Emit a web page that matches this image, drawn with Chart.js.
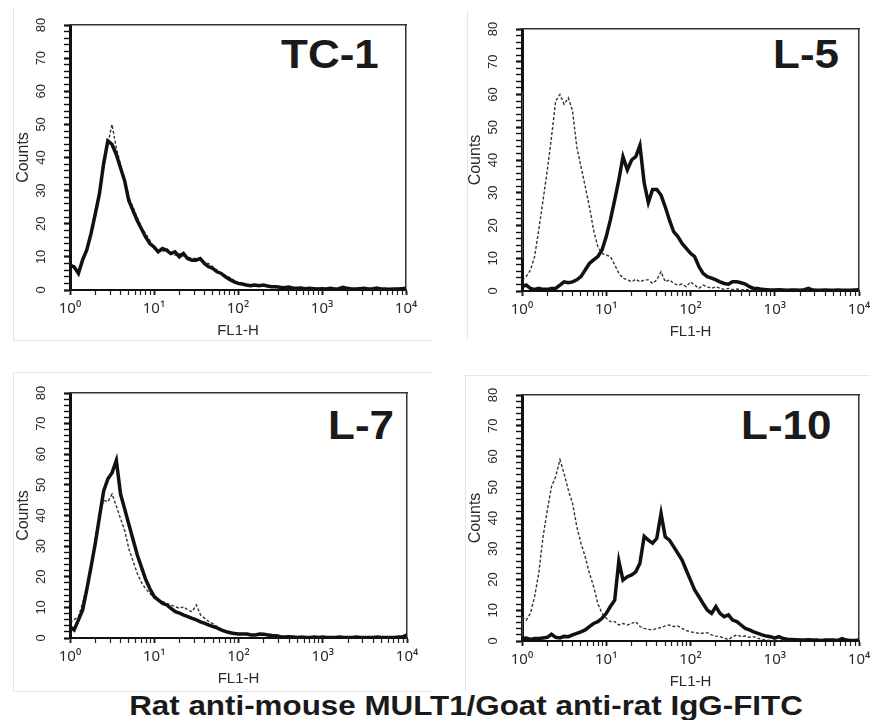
<!DOCTYPE html>
<html>
<head>
<meta charset="utf-8">
<script src="https://cdn.jsdelivr.net/npm/chart.js@4.4.0/dist/chart.umd.min.js"></script>
<style>
    body { margin: 0; width: 870px; height: 720px; overflow: hidden; position: relative; background: #fff;
           font-family: 'Liberation Sans', Arial, sans-serif; }
    canvas { position: absolute; }
    .tile { position: absolute; border: 0 solid #e6e6e6; }
    .tag { position: absolute; font-size: 40px; line-height: 40px; font-weight: bold; color: #1a1a1a;
           white-space: nowrap; transform-origin: left top; transform: scaleX(1.1); }
    #caption { position: absolute; left: 466px; top: 692px; font-size: 28px; line-height: 28px; font-weight: bold;
               color: #1a1a1a; white-space: nowrap; transform: translateX(-50%) scaleX(1.12); }
</style>
</head>
<body>
<div class="tile" style="left:13px; top:8px; width:417px; height:332px; border-left-width:1px; border-bottom-width:1px;"></div>
<div class="tile" style="left:467px; top:10px; width:403px; height:330px; border-left-width:1px;"></div>
<div class="tile" style="left:13px; top:372px; width:417px; height:318px; border-left-width:1px; border-top-width:1px; border-bottom-width:1px;"></div>
<div class="tile" style="left:465px; top:375px; width:405px; height:315px; border-left-width:1px; border-top-width:1px;"></div>

<div class="tag" style="left:281px; top:34px;">TC-1</div>
<div class="tag" style="left:773px; top:34px;">L-5</div>
<div class="tag" style="left:328px; top:405px;">L-7</div>
<div class="tag" style="left:741px; top:405px;">L-10</div>
<div id="caption">Rat anti-mouse MULT1/Goat anti-rat IgG-FITC</div>

<script>
// FL1-H channel positions (log spaced, 20 per decade)
const fl1h = [
    1, 1.12, 1.26, 1.41, 1.58, 1.78, 2, 2.24, 2.51, 2.82, 3.16, 3.55, 3.98, 4.47, 5.01, 5.62, 6.31, 7.08, 7.94, 8.91,
    10, 11.2, 12.6, 14.1, 15.8, 17.8, 20, 22.4, 25.1, 28.2, 31.6, 35.5, 39.8, 44.7, 50.1, 56.2, 63.1, 70.8, 79.4, 89.1,
    100, 112, 126, 141, 158, 178, 200, 224, 251, 282, 316, 355, 398, 447, 501, 562, 631, 708, 794, 891,
    1000, 1120, 1260, 1410, 1580, 1780, 2000, 2240, 2510, 2820, 3160, 3550, 3980, 4470, 5010, 5620, 6310, 7080, 7940, 8910,
    10000
];

const tc1Stained = [
    7.5, 7, 5, 9, 12, 17, 23, 29, 38, 45, 44, 41, 37, 33, 27, 24, 21, 18.5, 16, 14,
    13, 11.5, 12.5, 12, 11, 11.5, 10, 11, 9.5, 9, 9, 9.5, 8, 7, 6.5, 5.5, 5, 4, 3.2, 2.5,
    2, 1.8, 1.5, 1.3, 1.5, 1.3, 1.5, 1.2, 1, 1, 0.8, 0.7, 0.9, 0.6, 0.5, 0.6, 0.4, 0.5, 0.4, 0.3,
    0.4, 0.3, 0.5, 0.3, 0.4, 0.8, 0.5, 0.3, 0.3, 0.4, 0.5, 0.3, 0.3, 0.6, 0.3, 0.3, 0.2, 0.3, 0.3, 0.4,
    0.5
];
const tc1Isotype = [
    8, 6.5, 5.5, 9.5, 12.5, 17.5, 24, 30, 39, 44, 50, 43, 38, 32, 28, 25, 22, 19, 17, 15,
    12.5, 12, 11.5, 12.5, 11.5, 10.5, 11, 10.5, 10, 9.5, 9.5, 9, 8.5, 8, 7, 6, 5, 4.5, 3.8, 3,
    2.3, 2, 1.7, 1.5, 1.8, 1.4, 1.6, 1.3, 1.1, 1, 0.9, 0.8, 0.7, 0.7, 0.6, 0.5, 0.5, 0.4, 0.5, 0.4,
    0.3, 0.4, 0.4, 0.3, 0.5, 0.6, 0.4, 0.3, 0.4, 0.3, 0.4, 0.3, 0.4, 0.5, 0.3, 0.2, 0.3, 0.3, 0.2, 0.3,
    0.4
];

const l5Stained = [
    1.3, 1.8, 0.8, 0.5, 0.8, 0.5, 0.5, 0.8, 0.8, 1.8, 2.8, 2.5, 2.8, 3.4, 4.4, 6.4, 8.4, 9.5, 10.5, 12.5,
    16.6, 21.7, 27.8, 33.9, 41, 37, 40, 41, 44.5, 33, 27, 31, 31, 29.3, 25.7, 21.7, 18.1, 16.6, 14.5, 13,
    11.5, 10.5, 7.4, 5.4, 4.4, 3.9, 3.4, 2.8, 2.3, 2.1, 2.8, 2.8, 2.5, 2.1, 1.3, 0.8, 0.8, 0.5, 0.4, 0.3,
    0.3, 0.4, 0.3, 0.2, 0.3, 0.3, 0.2, 0.4, 0.8, 0.3, 0.2, 0.2, 0.3, 0.2, 0.2, 0.3, 0.2, 0.2, 0.2, 0.3,
    0.4
];
const l5Isotype = [
    3.4, 4.4, 6.4, 10.5, 18.6, 27.8, 37, 47, 58, 60, 57, 59, 55, 44, 38, 32, 25.7, 18.6, 13.5, 11.5,
    11, 10.5, 8, 5.4, 3.9, 3.4, 2.8, 3.6, 2.8, 3.4, 3.4, 2.3, 3.4, 5.9, 2.8, 3.4, 2.3, 1.8, 2.1, 1.3,
    2.8, 1.8, 0.8, 1.8, 1.3, 0.8, 1.3, 0.8, 0.5, 0.8, 0.4, 0.6, 0.3, 0.5, 0.3, 0.2, 0.2, 0.3, 0.1, 0.2,
    0.1, 0.1, 0.2, 0.1, 0.1, 0.1, 0.1, 0.1, 0.1, 0.1, 0.1, 0.1, 0.1, 0.1, 0.1, 0.1, 0.1, 0.1, 0.1, 0.1,
    0.1
];

const l7Stained = [
    3.7, 2.6, 5.9, 9.1, 15.7, 23.3, 31, 39.6, 48, 52, 54, 58, 47, 42, 37, 32, 27, 23, 19, 16,
    13.5, 12.4, 11.3, 10.8, 9.7, 8.6, 8.1, 7.5, 7, 6.4, 5.9, 5.3, 4.8, 4.2, 3.7, 3.2, 2.6, 2.1, 1.7, 1.5,
    1.3, 1.3, 1.3, 1, 1, 1.3, 1.2, 1, 0.8, 0.7, 0.4, 0.3, 0.4, 0.3, 0.2, 0.3, 0.2, 0.2, 0.3, 0.2,
    0.3, 0.2, 0.2, 0.2, 0.3, 0.2, 0.2, 0.2, 0.3, 0.2, 0.2, 0.2, 0.2, 0.3, 0.2, 0.2, 0.2, 0.2, 0.3, 0.4,
    1
];
const l7Isotype = [
    5, 6, 7, 11.3, 16.8, 23.8, 32.5, 40.7, 45, 44.5, 47, 43, 39, 35, 29, 25, 21, 18, 16, 14.5,
    13, 12.4, 11.9, 11.3, 10.8, 10.2, 9.7, 10.2, 9.1, 8.6, 10.8, 7.5, 6.4, 5.3, 4.6, 3.7, 2.8, 2.4, 2.1, 1.6,
    1.4, 1.5, 1.2, 1.1, 1, 1.2, 0.9, 0.8, 0.7, 0.6, 0.5, 0.4, 0.3, 0.3, 0.2, 0.3, 0.2, 0.2, 0.2, 0.2,
    0.2, 0.2, 0.2, 0.2, 0.2, 0.2, 0.2, 0.2, 0.2, 0.2, 0.2, 0.2, 0.2, 0.2, 0.2, 0.2, 0.2, 0.2, 0.2, 0.2,
    0.5
];

const l10Stained = [
    0.8, 1, 0.5, 0.8, 0.8, 1, 1.2, 2.2, 1.2, 1, 1.5, 1.4, 2, 2.5, 3, 3.6, 4.7, 5.7, 6.3, 7.4,
    9, 11.2, 13.3, 26, 19.8, 20.9, 21.5, 22.5, 25.3, 34, 32.8, 31.8, 33.4, 41.5, 33.9, 32.8, 30.7, 28.5, 26.3, 23,
    19.8, 16.6, 14.4, 12.2, 10.1, 9, 11.2, 9, 7.9, 8.5, 6.8, 6.3, 5.2, 4.1, 3.6, 3, 2.5, 2, 1.6, 1.4,
    0.9, 1.4, 0.8, 0.6, 0.5, 0.4, 0.3, 0.3, 0.4, 0.3, 0.3, 0.2, 0.3, 0.3, 0.3, 0.2, 0.8, 0.3, 0.2, 0.2,
    0.3
];
const l10Isotype = [
    7.9, 6.8, 9, 14.4, 22, 34, 42.6, 50.2, 53.4, 59, 54.5, 49, 44.8, 37.2, 31.8, 27.4, 22, 17.7, 12.2, 9,
    7.4, 6.3, 6.3, 5.2, 5.7, 5.2, 5.7, 6.3, 4.7, 4.1, 3.8, 3.6, 4.1, 4.4, 4.9, 5.2, 4.7, 4.9, 4.1, 3.4,
    3, 2.7, 2.5, 2.5, 2.7, 2, 1.6, 1.4, 0.9, 0.5, 1.4, 2, 1.4, 1.6, 1.2, 1.4, 0.9, 0.5, 0.3, 0.2,
    0.1, 0.1, 0.1, 0.1, 0.1, 0.1, 0.1, 0.1, 0.1, 0.1, 0.1, 0.1, 0.1, 0.1, 0.1, 0.1, 0.1, 0.1, 0.1, 0.1,
    0.1
];

// pile-up in the first channel (10^0) for each panel: TC-1, L-5, L-7, L-10
const edgeStained = [44, 10, 42, 1];
const edgeIsotype = [44, 61, 40, 8];

const decadeLabels = { 1: '10⁰', 10: '10¹', 100: '10²', 1000: '10³', 10000: '10⁴' };

const xTickValues = [];
[1, 10, 100, 1000].forEach(d => [1, 2, 3, 4, 5, 6, 7, 8, 9].forEach(m => xTickValues.push(m * d)));
xTickValues.push(10000);

const panels = [
    { stained: tc1Stained, isotype: tc1Isotype, left: 0,   top: 0,   width: 435, height: 340, padRight: 29 },
    { stained: l5Stained,  isotype: l5Isotype,  left: 452, top: 4,   width: 418, height: 337, padRight: 11 },
    { stained: l7Stained,  isotype: l7Isotype,  left: 0,   top: 368, width: 435, height: 320, padRight: 28 },
    { stained: l10Stained, isotype: l10Isotype, left: 452, top: 370, width: 418, height: 321, padRight: 11 }
];

Chart.defaults.font.family = "'Liberation Sans', Arial, sans-serif";
Chart.defaults.color = '#2a2a2a';

function toPoints(values) {
    return fl1h.map((x, i) => ({ x: x, y: values[i] }));
}

function frameAxis(position) {
    return {
        position: position,
        display: true,
        ticks: { display: false },
        grid: { display: false, drawTicks: false },
        border: { display: true, color: '#333', width: 1.5 },
        afterFit: s => { if (position === 'top') s.height = 0; else s.width = 0; }
    };
}

function drawPanel(p, n) {
    const canvas = document.createElement('canvas');
    canvas.width = p.width;
    canvas.height = p.height;
    canvas.style.left = p.left + 'px';
    canvas.style.top = p.top + 'px';
    document.body.appendChild(canvas);

    new Chart(canvas, {
        type: 'line',
        data: {
            datasets: [
                { data: toPoints(p.stained), borderColor: '#111', borderWidth: 3.5, pointRadius: 0, tension: 0 },
                { data: [{ x: 1, y: 0 }, { x: 1, y: edgeStained[n] }], borderColor: '#111', borderWidth: 3, pointRadius: 0 },
                { data: toPoints(p.isotype), borderColor: '#333', borderWidth: 1.4, borderDash: [3, 2], pointRadius: 0, tension: 0 },
                { data: [{ x: 1, y: 0 }, { x: 1, y: edgeIsotype[n] }], borderColor: '#555', borderWidth: 1.5, pointRadius: 0 }
            ]
        },
        options: {
            responsive: false,
            animation: false,
            events: [],
            layout: { padding: { top: 25, right: p.padRight, left: 0, bottom: 0 } },
            plugins: { legend: { display: false }, tooltip: { enabled: false } },
            scales: {
                x: {
                    type: 'logarithmic',
                    position: 'bottom',
                    min: 1,
                    max: 10000,
                    afterBuildTicks: s => { s.ticks = xTickValues.map(v => ({ value: v })); },
                    afterFit: s => { s.height = 50; s.paddingLeft = 0; s.paddingRight = 0; },
                    ticks: {
                        autoSkip: false,
                        minRotation: 0,
                        maxRotation: 0,
                        padding: 5,
                        font: { family: "'Noto Sans', 'Liberation Sans', sans-serif", size: 15 },
                        callback: v => decadeLabels[v] || ''
                    },
                    grid: {
                        drawOnChartArea: false,
                        tickLength: 5,
                        tickColor: '#222',
                        tickWidth: c => (c.tick && decadeLabels[c.tick.value]) ? 2 : 1.2
                    },
                    border: { display: true, color: '#111', width: 2 },
                    title: { display: true, text: 'FL1-H', font: { size: 15 }, padding: { top: 0, bottom: 0 } }
                },
                y: {
                    type: 'linear',
                    position: 'left',
                    min: 0,
                    max: 80,
                    afterCalculateLabelRotation: s => { s.labelRotation = 90; },
                    afterFit: s => { s.width = 70; s.paddingTop = 0; s.paddingBottom = 0; },
                    ticks: {
                        stepSize: 2,
                        autoSkip: false,
                        crossAlign: 'center',
                        padding: 15,
                        font: { size: 13 },
                        callback: v => v % 10 === 0 ? String(v) : ''
                    },
                    grid: {
                        drawOnChartArea: false,
                        tickLength: 6,
                        tickColor: '#111',
                        tickWidth: c => (c.tick && c.tick.value % 10 === 0) ? 2.2 : 1.4
                    },
                    border: { display: true, color: '#111', width: 3 },
                    title: { display: true, text: 'Counts', font: { size: 16 }, padding: { top: 14, bottom: 0 } }
                },
                x2: frameAxis('top'),
                y2: frameAxis('right')
            }
        }
    });
}

panels.forEach(drawPanel);
</script>
</body>
</html>
